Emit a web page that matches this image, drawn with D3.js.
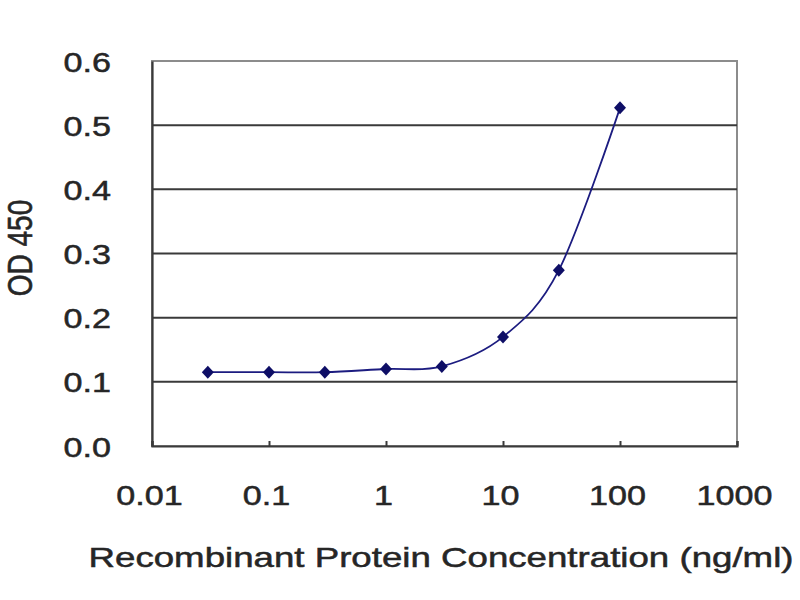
<!DOCTYPE html>
<html><head><meta charset="utf-8">
<script src="https://cdn.jsdelivr.net/npm/d3@7"></script>
<style>body{margin:0;background:#fff}svg{display:block}text{font-family:"Liberation Sans",Arial,sans-serif;fill:#262626;stroke:#262626;stroke-width:0.5px}</style>
</head><body><svg id="c" width="800" height="600"></svg>
<script>
const concentrations = [0.03, 0.1, 0.3, 1, 3, 10, 30, 100];
const od450 = [0.115, 0.115, 0.115, 0.12, 0.124, 0.17, 0.274, 0.527];
const xTicks = [0.01, 0.1, 1, 10, 100, 1000];
const xTickLabels = ["0.01", "0.1", "1", "10", "100", "1000"];
const yTicks = [0, 0.1, 0.2, 0.3, 0.4, 0.5, 0.6];
const yTickLabels = ["0.0", "0.1", "0.2", "0.3", "0.4", "0.5", "0.6"];
const xTitle = "Recombinant Protein Concentration (ng/ml)";
const yTitle = "OD 450";

const svg = d3.select("#c");
const L = 152, R = 737, T = 61, B = 446;
const stretch = 1.22;
const x = d3.scaleLog().domain([0.01, 1000]).range([L, R]);
const y = d3.scaleLinear().domain([0, 0.6]).range([B, T]);

// plot border (top/right lighter)
svg.append("rect").attr("x", L).attr("y", T).attr("width", R - L).attr("height", B - T)
  .attr("fill", "#fff").attr("stroke", "#8c8c8c").attr("stroke-width", 2);

// gridlines
svg.append("g").selectAll("line").data(yTicks.filter(d => d > 0 && d < 0.6)).join("line")
  .attr("x1", L).attr("x2", R).attr("y1", d => y(d)).attr("y2", d => y(d))
  .attr("stroke", "#3a3a3a").attr("stroke-width", 2);

// x axis with inside ticks
const xAxis = d3.axisBottom(x).tickValues(xTicks).tickSize(-5).tickPadding(38)
  .tickFormat((d, i) => xTickLabels[i]);
const gx = svg.append("g").attr("transform", `translate(0,${B})`).call(xAxis);
gx.select(".domain").attr("stroke", "#3a3a3a").attr("stroke-width", 2.2);
gx.selectAll(".tick line").attr("stroke", "#3a3a3a").attr("stroke-width", 2);
gx.selectAll(".tick text").attr("font-size", 28).attr("fill", null)
  .attr("dy", "0.35em").attr("y", 49).attr("x", -3 / stretch).attr("transform", `scale(${stretch},1)`);

// y axis
const yAxis = d3.axisLeft(y).tickValues(yTicks).tickSize(0).tickPadding(0)
  .tickFormat((d, i) => yTickLabels[i]);
const gy = svg.append("g").attr("transform", `translate(${L},0)`).call(yAxis);
gy.select(".domain").attr("stroke", "#3a3a3a").attr("stroke-width", 2.2);
gy.selectAll(".tick text").attr("font-size", 28).attr("fill", null)
  .attr("x", -41 / stretch).attr("dy", "0.36em").attr("transform", `scale(${stretch},1)`);

// smoothed line
const pts = concentrations.map((c, i) => [x(c), y(od450[i])]);
svg.append("path").attr("d", d3.line().curve(d3.curveCardinal.tension(0))(pts))
  .attr("fill", "none").attr("stroke", "#1c1c80").attr("stroke-width", 1.8);

// diamond markers
svg.append("g").selectAll("path").data(pts).join("path")
  .attr("transform", d => `translate(${d[0]},${d[1]})`)
  .attr("d", "M0,-6.5L6,0L0,6.5L-6,0Z").attr("fill", "#0e0e66");

// axis titles
svg.append("text").attr("text-anchor", "middle").attr("font-size", 28)
  .attr("transform", `translate(441,557) scale(1.31,1)`).attr("dy", "0.35em").text(xTitle);
svg.append("text").attr("text-anchor", "middle").attr("font-size", 28)
  .attr("transform", `translate(20,248) scale(${stretch},1) rotate(-90)`).attr("dy", "0.35em").text(yTitle);
</script></body></html>
